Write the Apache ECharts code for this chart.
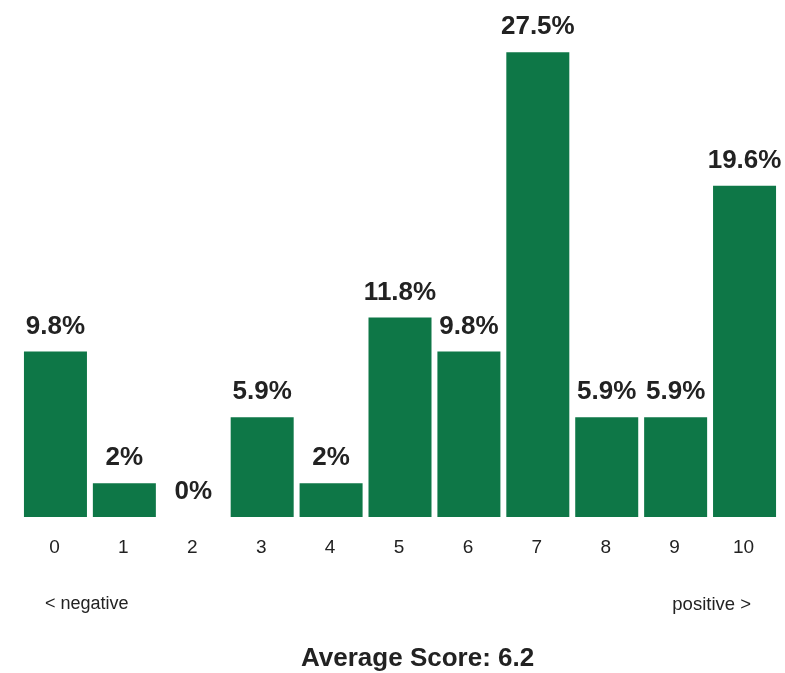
<!DOCTYPE html>
<html>
<head>
<meta charset="utf-8">
<script src="https://cdn.jsdelivr.net/npm/echarts@6/dist/echarts.min.js"></script>
<style>
html,body{margin:0;padding:0;background:#fff;}
#main{width:785px;height:673px;}
</style>
</head>
<body>
<div id="main"></div>
<script>
// scores 0..10 and share of answers (%)
var scores = ['0', '1', '2', '3', '4', '5', '6', '7', '8', '9', '10'];
var shares = [9.8, 2, 0, 5.9, 2, 11.8, 9.8, 27.5, 5.9, 5.9, 19.6];
var averageScore = 6.2;

var myChart = echarts.init(document.getElementById('main'));

var option = {
    backgroundColor: '#fff',
    textStyle: { fontFamily: 'Liberation Sans, Arial, sans-serif' },
    title: [
        {
            text: 'Average Score: ' + averageScore,
            left: 296,
            top: 641,
            textStyle: { fontSize: 26, fontWeight: 'bold', color: '#222' }
        },
        {
            text: '< negative',
            left: 40,
            top: 590,
            textStyle: { fontSize: 18, fontWeight: 'normal', color: '#222' }
        },
        {
            text: 'positive >',
            right: 29,
            top: 590,
            textStyle: { fontSize: 18.5, fontWeight: 'normal', color: '#222' }
        }
    ],
    grid: {
        left: 21,
        right: 6,
        top: 10,
        bottom: 156
    },
    xAxis: {
        type: 'category',
        data: scores,
        axisLine: { show: false },
        axisTick: { show: false },
        axisLabel: { fontSize: 19, color: '#222', margin: 21, padding: [0, 2, 0, 0] }
    },
    yAxis: {
        type: 'value',
        min: 0,
        max: 30,
        show: false,
        splitLine: { show: false }
    },
    series: [
        {
            type: 'bar',
            data: shares,
            barWidth: 63,
            itemStyle: { color: '#0e7747' },
            label: {
                show: true,
                position: 'top',
                distance: 12,
                fontSize: 26,
                fontWeight: 'bold',
                color: '#222',
                formatter: function (p) { return p.value + '%'; }
            },
            animation: false
        }
    ]
};
myChart.setOption(option);
</script>
</body>
</html>
